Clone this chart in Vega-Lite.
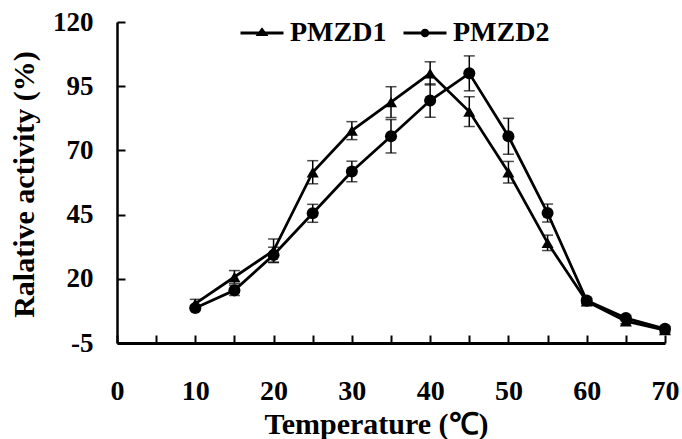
{
  "$schema": "https://vega.github.io/schema/vega-lite/v6.json",
  "width": 548,
  "height": 321,
  "autosize": "none",
  "padding": {"left": 117, "top": 22, "right": 17, "bottom": 96},
  "background": "white",
  "config": {"view": {"stroke": null}, "font": "Liberation Serif"},
  "data": {
    "values": [
      {"temp": 10, "series": "PMZD1", "activity": 10.3, "err": 1.7},
      {"temp": 15, "series": "PMZD1", "activity": 20.7, "err": 2.5},
      {"temp": 20, "series": "PMZD1", "activity": 31.0, "err": 4.5},
      {"temp": 25, "series": "PMZD1", "activity": 61.5, "err": 4.5},
      {"temp": 30, "series": "PMZD1", "activity": 77.7, "err": 3.5},
      {"temp": 35, "series": "PMZD1", "activity": 88.8, "err": 6},
      {"temp": 40, "series": "PMZD1", "activity": 100, "err": 4.5},
      {"temp": 45, "series": "PMZD1", "activity": 85.1, "err": 5.8},
      {"temp": 50, "series": "PMZD1", "activity": 61.5, "err": 4.2},
      {"temp": 55, "series": "PMZD1", "activity": 34.0, "err": 3},
      {"temp": 60, "series": "PMZD1", "activity": 11.2, "err": 1},
      {"temp": 65, "series": "PMZD1", "activity": 3.5, "err": 1},
      {"temp": 70, "series": "PMZD1", "activity": 0, "err": 1},
      {"temp": 10, "series": "PMZD2", "activity": 8.6, "err": 1},
      {"temp": 15, "series": "PMZD2", "activity": 15.5, "err": 2},
      {"temp": 20, "series": "PMZD2", "activity": 29.3, "err": 3},
      {"temp": 25, "series": "PMZD2", "activity": 45.5, "err": 3.5},
      {"temp": 30, "series": "PMZD2", "activity": 61.8, "err": 4},
      {"temp": 35, "series": "PMZD2", "activity": 75.5, "err": 6.5},
      {"temp": 40, "series": "PMZD2", "activity": 89.4, "err": 6.5},
      {"temp": 45, "series": "PMZD2", "activity": 100, "err": 6.8},
      {"temp": 50, "series": "PMZD2", "activity": 75.5, "err": 7},
      {"temp": 55, "series": "PMZD2", "activity": 45.6, "err": 3.5},
      {"temp": 60, "series": "PMZD2", "activity": 11.5, "err": 1},
      {"temp": 65, "series": "PMZD2", "activity": 4.7, "err": 1},
      {"temp": 70, "series": "PMZD2", "activity": 0.5, "err": 1}
    ]
  },
  "encoding": {
    "x": {
      "field": "temp",
      "type": "quantitative",
      "scale": {"domain": [0, 70], "nice": false, "zero": false},
      "axis": {
        "title": "Temperature (℃)",
        "values": [0, 5, 10, 15, 20, 25, 30, 35, 40, 45, 50, 55, 60, 65, 70],
        "labelExpr": "datum.value % 10 === 0 ? datum.label : ''",
        "grid": false,
        "domainColor": "black",
        "domainWidth": 3,
        "tickColor": "black",
        "tickWidth": 2,
        "tickSize": -8,
        "labelFont": "Liberation Serif",
        "labelFontWeight": "bold",
        "labelFontSize": 28,
        "labelColor": "black",
        "labelPadding": 64,
        "labelBaseline": "alphabetic",
        "labelFlush": false,
        "labelOverlap": false,
        "titleFont": "Liberation Serif",
        "titleFontWeight": "bold",
        "titleFontSize": 30,
        "titleColor": "black",
        "titleX": 259,
        "titleY": 90,
        "titleAlign": "center",
        "titleBaseline": "alphabetic"
      }
    },
    "y": {
      "field": "activity",
      "type": "quantitative",
      "scale": {"domain": [-5, 120], "nice": false, "zero": false},
      "axis": {
        "title": "Ralative activity (%)",
        "values": [-5, 20, 45, 70, 95, 120],
        "labelExpr": "datum.value < 0 ? '-' + abs(datum.value) : datum.label",
        "grid": false,
        "domainColor": "black",
        "domainWidth": 2.5,
        "tickColor": "black",
        "tickWidth": 2,
        "tickSize": -8,
        "labelFont": "Liberation Serif",
        "labelFontWeight": "bold",
        "labelFontSize": 27,
        "labelColor": "black",
        "labelPadding": 32,
        "labelBaseline": "middle",
        "labelOverlap": false,
        "labelFlush": false,
        "titleFont": "Liberation Serif",
        "titleFontWeight": "bold",
        "titleFontSize": 30,
        "titleColor": "black",
        "titleAngle": -90,
        "titleX": -84,
        "titleY": 162,
        "titleAlign": "center",
        "titleBaseline": "alphabetic"
      }
    }
  },
  "layer": [
    {
      "mark": {"type": "line", "color": "black", "strokeWidth": 2.75},
      "encoding": {"detail": {"field": "series", "type": "nominal"}}
    },
    {
      "mark": {
        "type": "errorbar",
        "ticks": {"size": 11, "thickness": 1.5, "color": "black"},
        "rule": {"strokeWidth": 1.5, "color": "black"}
      },
      "encoding": {
        "yError": {"field": "err"},
        "detail": {"field": "series", "type": "nominal"}
      }
    },
    {
      "mark": {"type": "point", "filled": true, "color": "black", "opacity": 1, "size": 145},
      "encoding": {
        "shape": {
          "field": "series",
          "type": "nominal",
          "scale": {"domain": ["PMZD1", "PMZD2"], "range": ["triangle-up", "circle"]},
          "legend": null
        }
      }
    },
    {
      "mark": {"type": "point", "filled": true, "color": "black", "opacity": 0},
      "encoding": {
        "shape": {
          "field": "series",
          "type": "nominal",
          "scale": {
            "domain": ["PMZD1", "PMZD2"],
            "range": [
              "M-1,-0.07H1V0.07H-1ZM0,-0.27L0.3,0.14L-0.3,0.14Z",
              "M-1,-0.07H-0.19V0.07H-1ZM0.19,-0.07H1V0.07H0.19ZM-0.2,0A0.2,0.2 0 1,1 0.2,0A0.2,0.2 0 1,1 -0.2,0Z"
            ]
          },
          "legend": {
            "orient": "none",
            "legendX": 123,
            "legendY": -11,
            "direction": "horizontal",
            "title": null,
            "padding": 0,
            "symbolSize": 1850,
            "symbolStrokeWidth": 0,
            "symbolFillColor": "black",
            "symbolOpacity": 1,
            "labelFont": "Liberation Serif",
            "labelFontSize": 28,
            "labelFontWeight": "bold",
            "labelColor": "black",
            "labelOffset": 6,
            "columnPadding": 16
          }
        }
      }
    }
  ],
  "resolve": {"scale": {"shape": "independent"}}
}
